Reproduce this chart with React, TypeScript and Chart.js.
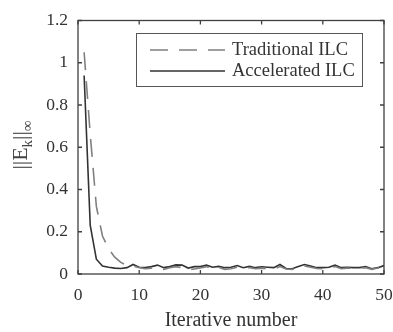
import React, { useEffect, useRef } from "react";
import { Chart, registerables } from "chart.js";

Chart.register(...registerables);

const iterations = Array.from({ length: 50 }, (_, i) => i + 1);

const traditionalILC = [
  1.05, 0.66, 0.32, 0.18, 0.12, 0.08, 0.055, 0.04, 0.038, 0.03,
  0.025, 0.028, 0.03, 0.022, 0.03, 0.035, 0.03, 0.02, 0.024, 0.028,
  0.035, 0.025, 0.03, 0.022, 0.025, 0.032, 0.028, 0.03, 0.025, 0.028,
  0.026, 0.024, 0.035, 0.024, 0.022, 0.03, 0.038, 0.032, 0.026, 0.025,
  0.028, 0.035, 0.025, 0.028, 0.026, 0.028, 0.03, 0.022, 0.028, 0.035,
];

const acceleratedILC = [
  0.94, 0.23, 0.07, 0.038, 0.032, 0.028, 0.026, 0.03, 0.045, 0.032,
  0.03, 0.035, 0.042, 0.03, 0.035, 0.043, 0.042, 0.028, 0.035, 0.035,
  0.042, 0.032, 0.036, 0.03, 0.032, 0.04, 0.03, 0.036, 0.03, 0.034,
  0.032, 0.03, 0.045, 0.026, 0.025, 0.035, 0.045, 0.038, 0.03, 0.03,
  0.032, 0.042, 0.03, 0.032, 0.03, 0.03, 0.035, 0.025, 0.03, 0.04,
];

const seriesNames = ["Traditional ILC", "Accelerated ILC"];
const xTitle = "Iterative number";

const FONT = '"Liberation Serif", "Times New Roman", serif';
const AXIS_COLOR = "#404040";
const TEXT_COLOR = "#333333";
const TRAD_COLOR = "#808080";
const ACC_COLOR = "#333333";
const DASH = [18, 11];

const decorPlugin = {
  id: "decor",
  afterDraw(chart: any) {
    const { ctx, chartArea } = chart;
    const { left, right, top, bottom } = chartArea;
    const xs = chart.scales.x;
    const ys = chart.scales.y;
    ctx.save();
    // frame
    ctx.strokeStyle = AXIS_COLOR;
    ctx.lineWidth = 1.3;
    ctx.strokeRect(left, top, right - left, bottom - top);
    // inward ticks
    const tl = 4;
    ctx.beginPath();
    xs.ticks.forEach((t: any) => {
      const px = xs.getPixelForValue(t.value);
      ctx.moveTo(px, bottom);
      ctx.lineTo(px, bottom - tl);
      ctx.moveTo(px, top);
      ctx.lineTo(px, top + tl);
    });
    ys.ticks.forEach((t: any) => {
      const py = ys.getPixelForValue(t.value);
      ctx.moveTo(left, py);
      ctx.lineTo(left + tl, py);
      ctx.moveTo(right, py);
      ctx.lineTo(right - tl, py);
    });
    ctx.stroke();

    // legend
    const lx = 136.5, ly = 33.5, lw = 226, lh = 53;
    ctx.fillStyle = "#ffffff";
    ctx.fillRect(lx, ly, lw, lh);
    ctx.strokeStyle = "#555555";
    ctx.lineWidth = 1;
    ctx.strokeRect(lx, ly, lw, lh);
    const rows = [
      { y: 50, color: TRAD_COLOR, dash: DASH, label: seriesNames[0] },
      { y: 71, color: ACC_COLOR, dash: [] as number[], label: seriesNames[1] },
    ];
    rows.forEach((r) => {
      ctx.beginPath();
      ctx.strokeStyle = r.color;
      ctx.lineWidth = 1.6;
      ctx.setLineDash(r.dash);
      ctx.moveTo(150, r.y);
      ctx.lineTo(225, r.y);
      ctx.stroke();
      ctx.setLineDash([]);
      ctx.fillStyle = TEXT_COLOR;
      ctx.font = `18.5px ${FONT}`;
      ctx.textAlign = "left";
      ctx.textBaseline = "middle";
      ctx.fillText(r.label, 232, r.y);
    });

    // x title
    ctx.fillStyle = TEXT_COLOR;
    ctx.font = `20px ${FONT}`;
    ctx.textAlign = "center";
    ctx.textBaseline = "alphabetic";
    ctx.fillText(xTitle, (left + right) / 2, 326);

    // y title ||E_k||_inf
    const parts = [
      { t: "||E", size: 22, dy: 0 },
      { t: "k", size: 15, dy: 5 },
      { t: "||", size: 22, dy: 0 },
      { t: "\u221E", size: 15, dy: 5 },
    ];
    let total = 0;
    parts.forEach((p) => {
      ctx.font = `${p.size}px ${FONT}`;
      total += ctx.measureText(p.t).width;
    });
    ctx.fillStyle = "#444444";
    ctx.translate(27, 145);
    ctx.rotate(-Math.PI / 2);
    ctx.textAlign = "left";
    ctx.textBaseline = "alphabetic";
    let u = -total / 2;
    parts.forEach((p) => {
      ctx.font = `${p.size}px ${FONT}`;
      ctx.fillText(p.t, u, p.dy);
      u += ctx.measureText(p.t).width;
    });
    ctx.restore();
  },
};

export default function App() {
  const ref = useRef<HTMLCanvasElement>(null);
  useEffect(() => {
    if (!ref.current) return;
    const chart = new Chart(ref.current, {
      type: "line",
      data: {
        datasets: [
          {
            label: seriesNames[0],
            data: iterations.map((x, i) => ({ x, y: traditionalILC[i] })),
            borderColor: TRAD_COLOR,
            borderWidth: 1.6,
            borderDash: DASH,
            pointRadius: 0,
            tension: 0,
            fill: false,
          },
          {
            label: seriesNames[1],
            data: iterations.map((x, i) => ({ x, y: acceleratedILC[i] })),
            borderColor: ACC_COLOR,
            borderWidth: 1.6,
            pointRadius: 0,
            tension: 0,
            fill: false,
          },
        ],
      },
      options: {
        responsive: false,
        animation: false,
        layout: { padding: { left: 0, top: 11, right: 21, bottom: 0 } },
        plugins: { legend: { display: false }, tooltip: { enabled: false } },
        scales: {
          x: {
            type: "linear",
            min: 0,
            max: 50,
            grid: { display: false, drawTicks: false },
            border: { display: false },
            ticks: {
              stepSize: 10,
              padding: 11,
              color: TEXT_COLOR,
              font: { family: FONT, size: 17.5 },
              maxRotation: 0,
            },
            afterFit: (s: any) => {
              s.height = 58;
            },
          },
          y: {
            type: "linear",
            min: 0,
            max: 1.2,
            grid: { display: false, drawTicks: false },
            border: { display: false },
            ticks: {
              stepSize: 0.2,
              padding: 10,
              color: TEXT_COLOR,
              font: { family: FONT, size: 17.5 },
              callback: (v: any) => String(+Number(v).toFixed(1)),
            },
            afterFit: (s: any) => {
              s.width = 78;
            },
          },
        },
      },
      plugins: [decorPlugin],
    } as any);
    return () => chart.destroy();
  }, []);
  return (
    <div
      style={{
        position: "fixed",
        left: 0,
        top: 0,
        width: 393,
        height: 332,
        overflow: "hidden",
        background: "#ffffff",
      }}
    >
      <canvas ref={ref} width={405} height={332} style={{ display: "block" }} />
    </div>
  );
}
